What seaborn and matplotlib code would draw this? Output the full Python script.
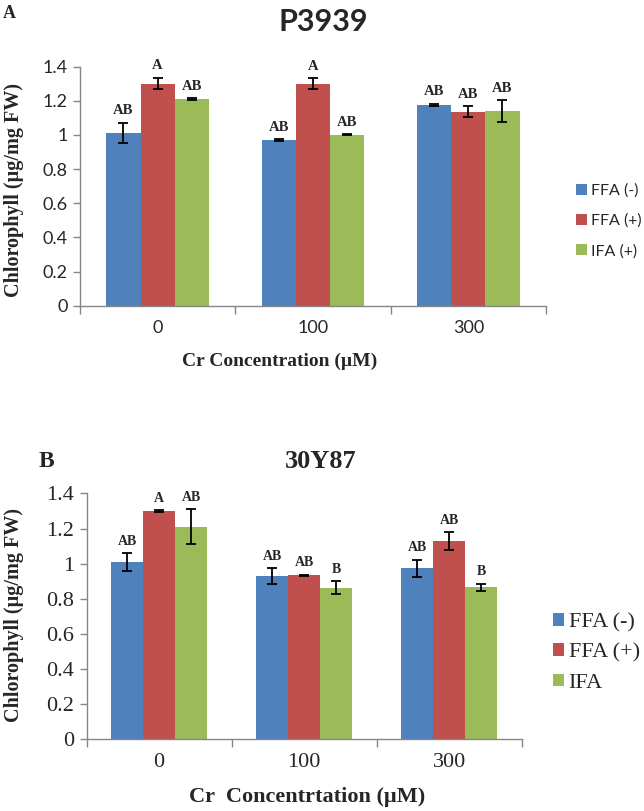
import numpy as np
import pandas as pd
import matplotlib
matplotlib.use("Agg")
import matplotlib.pyplot as plt
import seaborn as sns
from matplotlib.ticker import FuncFormatter, FixedLocator
from matplotlib.patches import Patch

# ---------------- data ----------------
concs = ["0", "100", "300"]

a_series = ["FFA (-)", "FFA (+)", "IFA (+)"]
a_ffa_neg = [1.01, 0.97, 1.175]
a_ffa_pos = [1.30, 1.30, 1.135]
a_ifa = [1.21, 1.00, 1.14]
a_err_ffa_neg = [0.06, 0.005, 0.006]
a_err_ffa_pos = [0.033, 0.032, 0.032]
a_err_ifa = [0.005, 0.003, 0.062]
a_letters_ffa_neg = ["AB", "AB", "AB"]
a_letters_ffa_pos = ["A", "A", "AB"]
a_letters_ifa = ["AB", "AB", "AB"]

b_series = ["FFA (-)", "FFA (+)", "IFA"]
b_ffa_neg = [1.01, 0.93, 0.973]
b_ffa_pos = [1.30, 0.935, 1.13]
b_ifa = [1.21, 0.863, 0.865]
b_err_ffa_neg = [0.05, 0.045, 0.05]
b_err_ffa_pos = [0.004, 0.003, 0.05]
b_err_ifa = [0.10, 0.038, 0.02]
b_letters_ffa_neg = ["AB", "AB", "AB"]
b_letters_ffa_pos = ["A", "AB", "AB"]
b_letters_ifa = ["AB", "B", "B"]

colors = ["#4F81BD", "#C0504D", "#9BBB59"]
yticks = [0, 0.2, 0.4, 0.6, 0.8, 1.0, 1.2, 1.4]

SANS = "Lato"
SERIF = "Liberation Serif"

sns.set_theme(style="white")
plt.rcParams["font.family"] = ["DejaVu Sans"]

fig = plt.figure(figsize=(6.44, 8.11), dpi=100)


def make_df(series, vals):
    rows = []
    for s, v in zip(series, vals):
        for c, y in zip(concs, v):
            rows.append({"conc": c, "treat": s, "val": y})
    return pd.DataFrame(rows)


def draw(ax, series, vals, errs, letters, tick_font, tick_size, letter_size):
    df = make_df(series, vals)
    sns.barplot(data=df, x="conc", y="val", hue="treat", order=concs,
                hue_order=series, palette=colors, saturation=1, width=0.66,
                errorbar=None, ax=ax, legend=False, linewidth=0)
    for cont, e, lt in zip(ax.containers, errs, letters):
        for bar, ei, li in zip(cont.patches, e, lt):
            xc = bar.get_x() + bar.get_width() / 2
            h = bar.get_height()
            ax.errorbar(xc, h, yerr=ei, fmt="none", ecolor="black",
                        elinewidth=1.3, capsize=3.3, capthick=1.3)
            ax.annotate(li, (xc, h + ei), xytext=(0, 4), textcoords="offset points",
                        ha="center", va="bottom", fontfamily=SERIF,
                        fontweight="bold", fontsize=letter_size)
    ax.set_ylim(0, 1.4)
    ax.set_xlim(-0.5, 2.5)
    ax.yaxis.set_major_locator(FixedLocator(yticks))
    ax.yaxis.set_major_formatter(FuncFormatter(lambda v, p: f"{v:g}"))
    ax.xaxis.set_minor_locator(FixedLocator([-0.5, 0.5, 1.5, 2.5]))
    ax.tick_params(axis="x", which="major", length=0, pad=10)
    ax.tick_params(axis="x", which="minor", length=6, width=1, color="#868686", bottom=True)
    ax.tick_params(axis="y", which="major", length=5, width=1, color="#868686", left=True, pad=4)
    for lab in ax.get_xticklabels() + ax.get_yticklabels():
        lab.set_fontfamily(tick_font)
        lab.set_fontsize(tick_size)
    sns.despine(ax=ax)
    for sp in ["left", "bottom"]:
        ax.spines[sp].set_color("#868686")
        ax.spines[sp].set_linewidth(1)
    ax.set_xlabel("")
    ax.set_ylabel("")


# ---------------- panel A ----------------
axA = fig.add_axes([0.1242, 0.6231, 0.7236, 0.2948])
draw(axA, a_series,
     [a_ffa_neg, a_ffa_pos, a_ifa],
     [a_err_ffa_neg, a_err_ffa_pos, a_err_ifa],
     [a_letters_ffa_neg, a_letters_ffa_pos, a_letters_ifa],
     SANS, 13, 10.5)
fig.text(323 / 644, 1 - 22 / 811, "P3939", ha="center", va="center",
         fontfamily=SANS, fontweight="bold", fontsize=22)
fig.text(3 / 644, 1 - 13 / 811, "A", ha="left", va="center",
         fontfamily=SERIF, fontweight="bold", fontsize=13)
fig.text(14 / 644, 1 - 190 / 811, "Chlorophyll (µg/mg FW)", rotation=90,
         ha="center", va="center", fontfamily=SERIF, fontweight="bold", fontsize=14.5)
fig.text(280 / 644, 1 - 361 / 811, "Cr Concentration (µM)", ha="center", va="center",
         fontfamily=SERIF, fontweight="bold", fontsize=14)
handlesA = [Patch(facecolor=c, edgecolor="none") for c in colors]
fig.legend(handlesA, a_series, loc="center left",
           bbox_to_anchor=(576 / 644, 1 - 221 / 811), frameon=False,
           prop={"family": SANS, "size": 11.5}, handlelength=0.7, handleheight=0.7,
           handletextpad=0.25, labelspacing=1.0, borderpad=0, borderaxespad=0)

# ---------------- panel B ----------------
axB = fig.add_axes([0.1346, 0.0884, 0.6755, 0.3031])
draw(axB, b_series,
     [b_ffa_neg, b_ffa_pos, b_ifa],
     [b_err_ffa_neg, b_err_ffa_pos, b_err_ifa],
     [b_letters_ffa_neg, b_letters_ffa_pos, b_letters_ifa],
     SERIF, 16, 10)
fig.text(321 / 644, 1 - 462 / 811, "30Y87", ha="center", va="center",
         fontfamily=SERIF, fontweight="bold", fontsize=19)
fig.text(39 / 644, 1 - 462 / 811, "B", ha="left", va="center",
         fontfamily=SERIF, fontweight="bold", fontsize=17)
fig.text(14 / 644, 1 - 615 / 811, "Chlorophyll (µg/mg FW)", rotation=90,
         ha="center", va="center", fontfamily=SERIF, fontweight="bold", fontsize=14.5)
fig.text(307 / 644, 1 - 797 / 811, "Cr  Concentrtation (µM)", ha="center", va="center",
         fontfamily=SERIF, fontweight="bold", fontsize=16)
handlesB = [Patch(facecolor=c, edgecolor="none") for c in colors]
fig.legend(handlesB, b_series, loc="center left",
           bbox_to_anchor=(553 / 644, 1 - 653 / 811), frameon=False,
           prop={"family": SERIF, "size": 16}, handlelength=0.5, handleheight=0.5,
           handletextpad=0.2, labelspacing=0.5, borderpad=0, borderaxespad=0)

fig.savefig("out.png", dpi=100)
